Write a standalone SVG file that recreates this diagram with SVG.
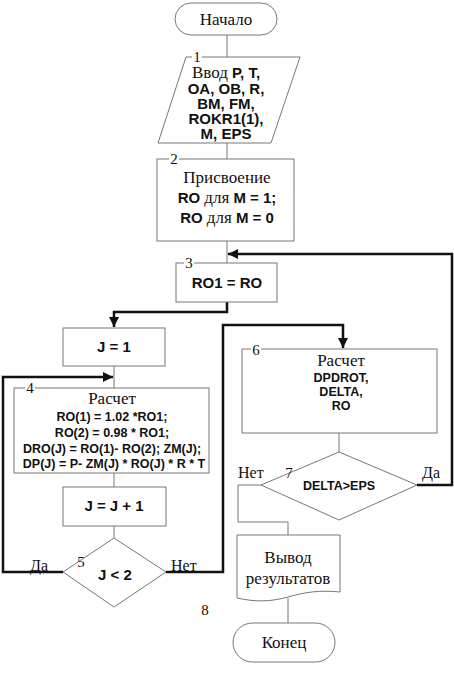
<svg xmlns="http://www.w3.org/2000/svg" width="454" height="678" viewBox="0 0 454 678">
<defs>
<style>
.n{fill:#fff;stroke:#777;stroke-width:1}
.t{font-family:"Liberation Serif","Times New Roman",serif;font-size:17px;fill:#111;text-anchor:middle}
.b{font-family:"Liberation Sans",Arial,sans-serif;font-weight:bold;font-size:15px;fill:#111;text-anchor:middle}
.s{font-family:"Liberation Sans",Arial,sans-serif;font-weight:bold;font-size:12.5px;fill:#111;text-anchor:middle}
.sr{font-family:"Liberation Serif","Times New Roman",serif;font-weight:normal}
.num{font-family:"Liberation Serif","Times New Roman",serif;font-size:15px;fill:#111;text-anchor:middle}
.lbl{font-family:"Liberation Serif","Times New Roman",serif;font-size:16px;fill:#111}
.thin{fill:none;stroke:#777;stroke-width:1}
.thick{fill:none;stroke:#111;stroke-width:2.5}
</style>
<marker id="ah" viewBox="0 0 10 10" refX="10" refY="5" markerWidth="4" markerHeight="4" orient="auto" markerUnits="strokeWidth">
<path d="M0,0 L10,5 L0,10 z" fill="#111"/>
</marker>
</defs>
<rect width="454" height="678" fill="#fff"/>

<g id="connectors">
<path class="thin" d="M227,35 V57"/>
<path class="thin" d="M227,143 V159"/>
<path class="thin" d="M227,241 V263"/>
<path class="thin" d="M114,366 V388"/>
<path class="thin" d="M114,473 V487"/>
<path class="thin" d="M114,526 V538"/>
<path class="thin" d="M339,433 V452"/>
<path class="thin" d="M261,485 H238 V522 H288 V535"/>
<path class="thin" d="M288,598 V623"/>
<path class="thick" d="M417,485 H452 V254 H228" marker-end="url(#ah)"/>
<path class="thick" d="M227,302 V312 H114 V327" marker-end="url(#ah)"/>
<path class="thick" d="M63,572 H3 V377 H113" marker-end="url(#ah)"/>
<path class="thick" d="M166,572 H223 V325 H343 V348" marker-end="url(#ah)"/>
</g>

<g id="start">
<rect class="n" x="175" y="3" width="102" height="32" rx="16"/>
<text class="t" x="226" y="25">Начало</text>
</g>

<g id="node1">
<polygon class="n" points="186,57 300,57 271,143 158,143"/>
<rect x="192" y="52" width="10" height="9" fill="#fff"/>
<text class="num" x="197" y="62">1</text>
<text class="b" x="226" y="78"><tspan class="sr" font-size="17">Ввод</tspan> P, T,</text>
<text class="b" x="226" y="94">OA, OB, R,</text>
<text class="b" x="226" y="109">BM, FM,</text>
<text class="b" x="226" y="124">ROKR1(1),</text>
<text class="b" x="226" y="139">M, EPS</text>
</g>

<g id="node2">
<rect class="n" x="157" y="159" width="137" height="82"/>
<rect x="169" y="154" width="10" height="9" fill="#fff"/>
<text class="num" x="174" y="164">2</text>
<text class="t" x="227" y="183">Присвоение</text>
<text class="b" x="227" y="203">RO <tspan class="sr" font-size="17">для</tspan> M = 1;</text>
<text class="b" x="227" y="223">RO <tspan class="sr" font-size="17">для</tspan> M = 0</text>
</g>

<g id="node3">
<rect class="n" x="176" y="263" width="101" height="39"/>
<rect x="184" y="258" width="10" height="9" fill="#fff"/>
<text class="num" x="189" y="268">3</text>
<text class="b" x="227" y="288">RO1 = RO</text>
</g>

<g id="nodeJ1">
<rect class="n" x="63" y="328" width="102" height="38"/>
<text class="b" x="114" y="352">J = 1</text>
</g>

<g id="node4">
<rect class="n" x="14" y="388" width="195" height="85"/>
<rect x="25" y="383" width="10" height="9" fill="#fff"/>
<text class="num" x="30" y="393">4</text>
<text class="t" x="112" y="404">Расчет</text>
<text class="s" x="112" y="421">RO(1) = 1.02 *RO1;</text>
<text class="s" x="112" y="437">RO(2) = 0.98 * RO1;</text>
<text class="s" x="112" y="453">DRO(J) = RO(1)- RO(2); ZM(J);</text>
<text class="s" x="114" y="468">DP(J) = P- ZM(J) * RO(J) * R * T</text>
</g>

<g id="nodeJJ1">
<rect class="n" x="63" y="487" width="103" height="39"/>
<text class="b" x="114" y="511">J = J + 1</text>
</g>

<g id="node5">
<polygon class="n" points="114,538 166,572 114,607 63,572"/>
<text class="num" x="81" y="567">5</text>
<text class="b" x="115" y="580">J &lt; 2</text>
<text class="lbl" x="30" y="571">Да</text>
<text class="lbl" x="171" y="571">Нет</text>
</g>

<g id="node6">
<rect class="n" x="242" y="349" width="195" height="84"/>
<rect x="251" y="344" width="10" height="9" fill="#fff"/>
<text class="num" x="256" y="355">6</text>
<text class="t" x="341" y="366">Расчет</text>
<text class="s" x="341" y="382">DPDROT,</text>
<text class="s" x="341" y="396">DELTA,</text>
<text class="s" x="341" y="410">RO</text>
</g>

<g id="node7">
<polygon class="n" points="339,452 417,485 339,520 261,485"/>
<text class="num" x="289" y="478">7</text>
<text class="s" x="339" y="490">DELTA&gt;EPS</text>
<text class="lbl" x="238" y="478">Нет</text>
<text class="lbl" x="422" y="478">Да</text>
</g>

<g id="output">
<path class="n" d="M237,535 H340 V592 C320,590 305,592 288,597 C270,602 255,602 237,598 Z"/>
<text class="t" x="288" y="563">Вывод</text>
<text class="t" x="288" y="584">результатов</text>
</g>

<g id="label8">
<text class="num" x="205" y="615">8</text>
</g>

<g id="end">
<rect class="n" x="233" y="623" width="102" height="39" rx="19.5"/>
<text class="t" x="284" y="648">Конец</text>
</g>
</svg>
